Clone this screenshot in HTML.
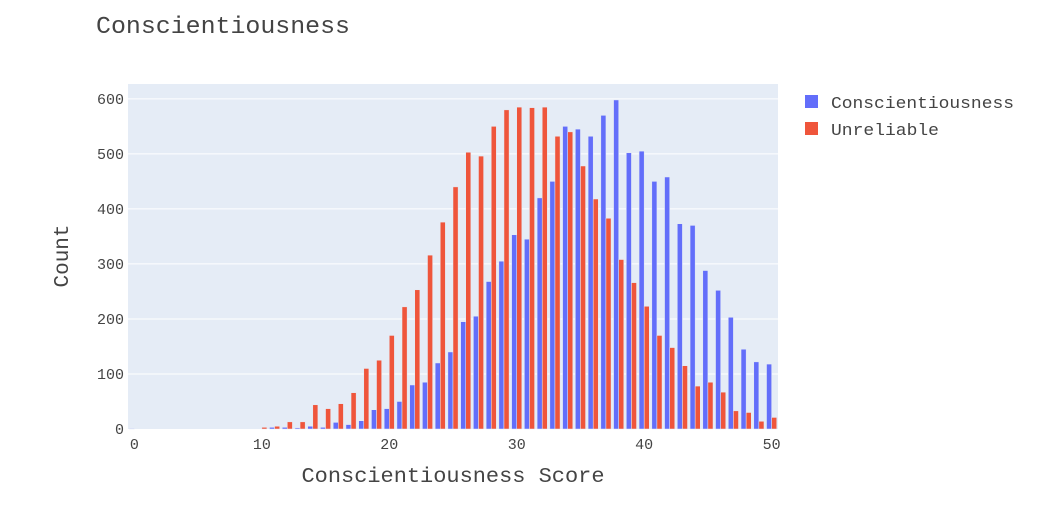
<!DOCTYPE html>
<html><head><meta charset="utf-8"><style>
body{margin:0;background:#fff;}
svg text{font-family:"Liberation Mono","DejaVu Sans Mono",monospace;fill:#444;}
</style></head><body>
<svg id="chart" width="1042" height="516" xmlns="http://www.w3.org/2000/svg">
<text x="96" y="33" font-size="24" textLength="254" lengthAdjust="spacingAndGlyphs">Conscientiousness</text>
<rect x="128" y="84" width="650" height="345" fill="#e5ecf6"/>
<g id="grid"></g><g id="bars"></g><g id="ticks"></g>
<text x="453" y="482" font-size="21" textLength="303" lengthAdjust="spacingAndGlyphs" text-anchor="middle">Conscientiousness Score</text>
<text transform="translate(68,256) rotate(-90)" font-size="21" text-anchor="middle">Count</text>
<g>
<g><rect x="805" y="95" width="13" height="13" fill="#636efa"/><text x="831" y="108" font-size="17" textLength="183" lengthAdjust="spacingAndGlyphs">Conscientiousness</text></g>
<g><rect x="805" y="122" width="13" height="13" fill="#EF553B"/><text x="831" y="135" font-size="17" textLength="108" lengthAdjust="spacingAndGlyphs">Unreliable</text></g>
</g>
</svg>
<script>
const categories=[];for(let i=0;i<=50;i++)categories.push(i);
const conscientiousness=[1,0,0,0,0,0,0,0,0,0,0,3,3,2,5,3,12,8,15,35,37,50,80,85,120,140,195,205,268,305,353,345,420,450,550,545,532,570,598,502,505,450,458,373,370,288,252,203,145,122,118];
const unreliable=[0,0,0,0,0,0,0,0,0,0,3,5,13,13,44,37,46,66,110,125,170,222,253,316,376,440,503,496,550,580,585,584,585,532,540,478,418,383,308,266,223,170,148,115,78,85,67,33,30,14,21];
const yTicks=[0,100,200,300,400,500,600];
const xTicks=[0,10,20,30,40,50];
const X0=128,X1=778,Y0=429,Y1=84,xmin=-0.5,xmax=50.5,ymax=627;
const xs=v=>X0+(v-xmin)/(xmax-xmin)*(X1-X0);
const ys=v=>Y0-v/ymax*(Y0-Y1);
const NS="http://www.w3.org/2000/svg";
const mk=(t,a,p)=>{const e=document.createElementNS(NS,t);for(const k in a)e.setAttribute(k,a[k]);p.appendChild(e);return e;};
const grid=document.getElementById('grid'),bars=document.getElementById('bars'),ticks=document.getElementById('ticks');
yTicks.forEach(v=>{
 if(v>0){const l=mk('line',{x1:X0,x2:X1,y1:ys(v),y2:ys(v),stroke:'#fff','stroke-width':1},grid);
 
 }
 const t=mk('text',{x:X0-4,y:ys(v)+5,'font-size':15,'text-anchor':'end'},ticks);t.textContent=v;
 
 
});
xTicks.forEach(v=>{
 const t=mk('text',{x:xs(v),y:Y0+20,'font-size':15,'text-anchor':'middle'},ticks);t.textContent=v;
 
 
});
const cw=(X1-X0)/(xmax-xmin),bw=cw*0.4;
[[conscientiousness,'#636efa',-1],[unreliable,'#EF553B',0]].forEach(([arr,c,o],si)=>{
 categories.forEach((cat,i)=>{
  const v=arr[i];if(!v)return;
  const r=mk('rect',{x:xs(cat)+o*bw,y:ys(v),width:bw,height:Y0-ys(v),fill:c,stroke:'#e5ecf6','stroke-width':0.5},bars);
  
  
 });
});
</script>
</body></html>
